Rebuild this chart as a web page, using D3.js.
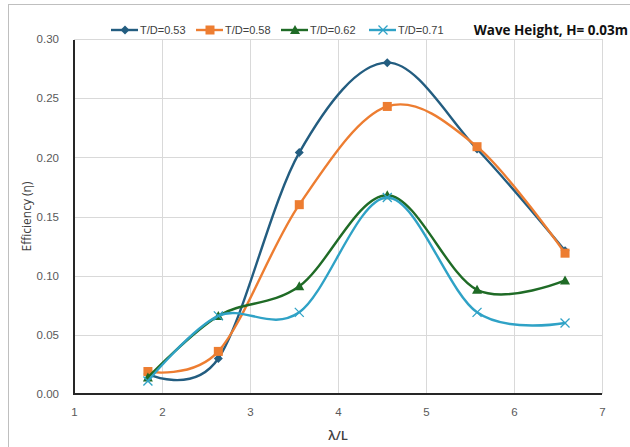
<!DOCTYPE html>
<html>
<head>
<meta charset="utf-8">
<script src="https://cdn.jsdelivr.net/npm/d3@7"></script>
<style>
  html, body { margin: 0; padding: 0; background: #fff; }
  svg { display: block; }
</style>
</head>
<body>
<svg id="chart" width="630" height="447"></svg>
<script>
// Wave length ratio (λ/L) at which efficiency was measured
const xValues = [1.84, 2.64, 3.56, 4.56, 5.58, 6.58];

// Efficiency for each draft ratio
const seriesNames = ["T/D=0.53", "T/D=0.58", "T/D=0.62", "T/D=0.71"];
const eff053 = [0.017, 0.030, 0.204, 0.280, 0.207, 0.121];
const eff058 = [0.019, 0.036, 0.160, 0.243, 0.209, 0.119];
const eff062 = [0.014, 0.066, 0.091, 0.168, 0.088, 0.096];
const eff071 = [0.011, 0.066, 0.069, 0.166, 0.069, 0.060];

const xTicks = [1, 2, 3, 4, 5, 6, 7];
const yTicks = [0, 0.05, 0.10, 0.15, 0.20, 0.25, 0.30];

const colors = ["#235D80", "#ED7D31", "#1F6B26", "#2FA2C6"];
const markers = ["diamond", "square", "triangle", "cross"];
const seriesValues = [eff053, eff058, eff062, eff071];

const svg = d3.select("#chart");
const plot = { left: 74, right: 602, top: 39, bottom: 394 };

// Outer chart frame
svg.append("rect")
  .attr("x", 8.5).attr("y", 4.5)
  .attr("width", 700).attr("height", 600)
  .attr("fill", "#fff").attr("stroke", "#BFBFBF").attr("stroke-width", 1);

const x = d3.scaleLinear().domain([1, 7]).range([plot.left, plot.right]);
const y = d3.scaleLinear().domain([0, 0.30]).range([plot.bottom, plot.top]);

// Gridlines
const grid = svg.append("g");
grid.selectAll("line.h").data(yTicks.filter(d => d > 0)).join("line")
  .attr("x1", plot.left).attr("x2", plot.right)
  .attr("y1", d => Math.round(y(d)) + 0.5).attr("y2", d => Math.round(y(d)) + 0.5)
  .attr("stroke", "#D9D9D9").attr("stroke-width", 1);
grid.selectAll("line.v").data(xTicks.filter(d => d > 1)).join("line")
  .attr("y1", plot.top).attr("y2", plot.bottom)
  .attr("x1", d => Math.round(x(d)) + 0.5).attr("x2", d => Math.round(x(d)) + 0.5)
  .attr("stroke", "#D9D9D9").attr("stroke-width", 1);

// Axes
const yAxis = d3.axisLeft(y).tickValues(yTicks).tickFormat(d3.format(".2f")).tickSize(0).tickPadding(15);
const xAxis = d3.axisBottom(x).tickValues(xTicks).tickFormat(d3.format("d")).tickSize(0).tickPadding(14);

const gy = svg.append("g").attr("transform", `translate(${plot.left},0)`).call(yAxis);
const gx = svg.append("g").attr("transform", `translate(0,${plot.bottom})`).call(xAxis);
[gx, gy].forEach(g => {
  g.select(".domain").remove();
  g.selectAll("text")
    .attr("fill", "#595959")
    .style("font-family", "'Liberation Sans', Arial, sans-serif")
    .style("font-size", "11.5px");
});

// Axis lines
svg.append("line")
  .attr("x1", plot.left).attr("x2", plot.left)
  .attr("y1", plot.top + 1).attr("y2", plot.bottom + 1)
  .attr("stroke", "#262626").attr("stroke-width", 2);
svg.append("line")
  .attr("x1", plot.left - 1).attr("x2", plot.right)
  .attr("y1", plot.bottom).attr("y2", plot.bottom)
  .attr("stroke", "#262626").attr("stroke-width", 2);

// Axis titles
svg.append("text")
  .attr("transform", `translate(31,${(plot.top + plot.bottom) / 2}) rotate(-90)`)
  .attr("text-anchor", "middle")
  .attr("fill", "#404040")
  .style("font-family", "'Open Sans', sans-serif")
  .style("font-size", "12px")
  .text("Efficiency (η)");

svg.append("text")
  .attr("x", (plot.left + plot.right) / 2)
  .attr("y", 440)
  .attr("text-anchor", "middle")
  .attr("fill", "#404040")
  .style("font-family", "'Open Sans', sans-serif")
  .style("font-size", "13px")
  .style("font-weight", "600")
  .text("λ/L");

// Marker drawing
function drawMarker(g, type, color, cx, cy) {
  if (type === "diamond") {
    g.append("path")
      .attr("d", `M${cx},${cy - 4.5}L${cx + 4.5},${cy}L${cx},${cy + 4.5}L${cx - 4.5},${cy}Z`)
      .attr("fill", color);
  } else if (type === "square") {
    g.append("rect")
      .attr("x", cx - 4.5).attr("y", cy - 4.5).attr("width", 9).attr("height", 9)
      .attr("fill", color);
  } else if (type === "triangle") {
    g.append("path")
      .attr("d", `M${cx},${cy - 5}L${cx + 5},${cy + 4}L${cx - 5},${cy + 4}Z`)
      .attr("fill", color);
  } else {
    g.append("path")
      .attr("d", `M${cx - 4.5},${cy - 4.5}L${cx + 4.5},${cy + 4.5}M${cx - 4.5},${cy + 4.5}L${cx + 4.5},${cy - 4.5}`)
      .attr("stroke", color).attr("stroke-width", 1.3).attr("fill", "none");
  }
}

// Smoothed series lines
const line = d3.line()
  .x(d => x(d[0]))
  .y(d => y(d[1]))
  .curve(d3.curveCardinal.tension(0));

seriesValues.forEach((vals, i) => {
  const pts = xValues.map((xv, j) => [xv, vals[j]]);
  const g = svg.append("g");
  g.append("path")
    .attr("d", line(pts))
    .attr("fill", "none")
    .attr("stroke", colors[i])
    .attr("stroke-width", 2.4)
    .attr("stroke-linecap", "round");
  pts.forEach(p => drawMarker(g, markers[i], colors[i], x(p[0]), y(p[1])));
});

// Legend
const legendX = [111, 196, 281, 369];
const legend = svg.append("g");
seriesNames.forEach((name, i) => {
  const lx = legendX[i], ly = 30;
  const g = legend.append("g");
  g.append("line")
    .attr("x1", lx).attr("x2", lx + 27)
    .attr("y1", ly).attr("y2", ly)
    .attr("stroke", colors[i]).attr("stroke-width", 2.4);
  drawMarker(g, markers[i], colors[i], lx + 14, ly);
  g.append("text")
    .attr("x", lx + 29).attr("y", ly + 4)
    .attr("fill", "#404040")
    .style("font-family", "'Liberation Sans', Arial, sans-serif")
    .style("font-size", "11px")
    .text(name);
});

// Wave height note
svg.append("text")
  .attr("x", 628).attr("y", 35)
  .attr("text-anchor", "end")
  .attr("fill", "#111")
  .style("font-family", "'Open Sans', sans-serif")
  .style("font-size", "13.5px")
  .style("font-weight", "700")
  .text("Wave Height, H= 0.03m");
</script>
</body>
</html>
